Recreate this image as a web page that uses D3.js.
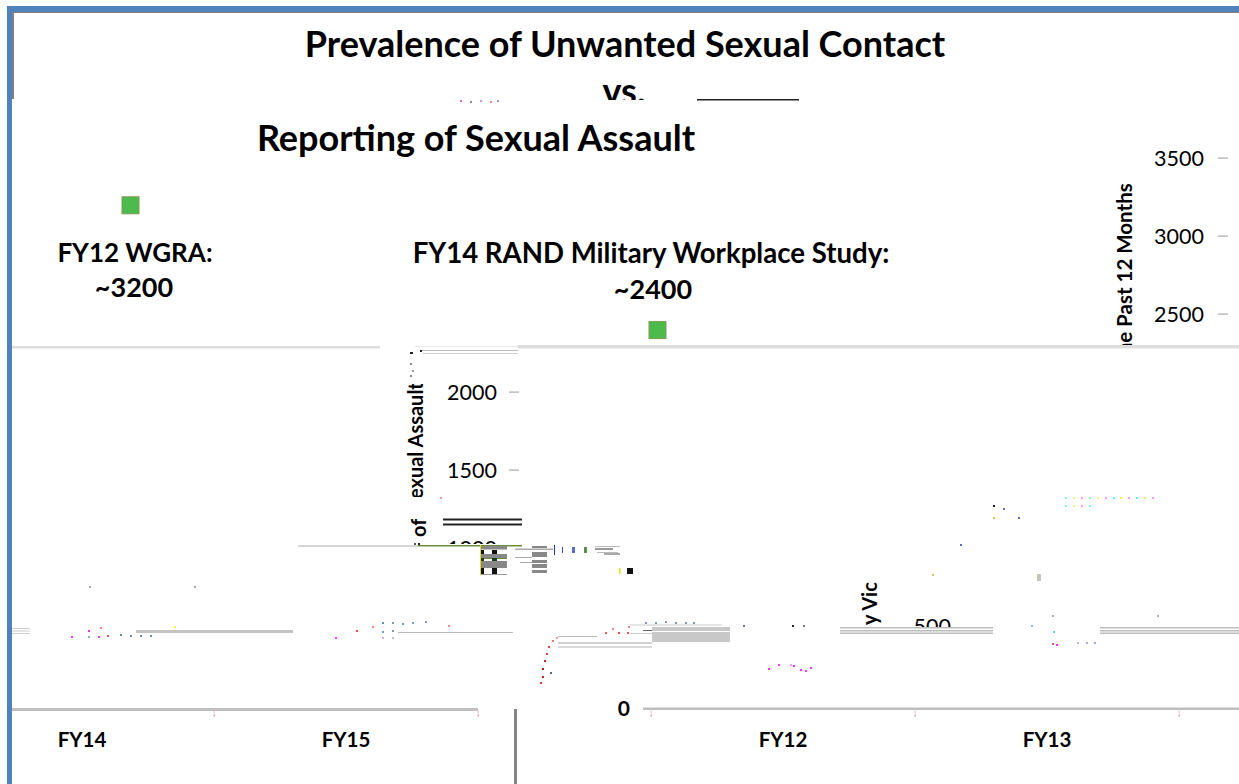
<!DOCTYPE html>
<html><head><meta charset="utf-8">
<script src="https://cdn.jsdelivr.net/npm/d3@7"></script>
<style>html,body{margin:0;padding:0;background:#fff}svg{display:block}text{font-family:Lato,Carlito,sans-serif;fill:#000}</style>
</head><body><svg width="1239" height="784"></svg>
<script>
const leftCategories = ["FY14","FY15"];
const rightCategories = ["FY12","FY13"];
const tickValues = [500,1000,1500,2000,2500,3000,3500];
const surveyYears = [12,14];
const surveyValues = [3200,2400];
const surveyNames = ["FY12 WGRA:","FY14 RAND Military Workplace Study:"];
const surveyTexts = ["~3200","~2400"];

const svg = d3.select("svg");
const y = d3.scaleLinear().domain([0,3500]).range([704,158]);
const xL = d3.scaleBand().domain(leftCategories).range([-50,478]);
const xR = d3.scaleBand().domain(rightCategories).range([651,1179]);
const xS = d3.scaleLinear().domain(surveyYears).range([130.5,657.5]);

function rect(x0,y0,x1,y1,c){svg.append("rect").attr("x",x0).attr("y",y0).attr("width",x1-x0).attr("height",y1-y0).attr("fill",c);}
function text(s,x,yy,size,weight,anchor){return svg.append("text").attr("x",x).attr("y",yy).attr("font-size",size).attr("font-weight",weight||400).attr("text-anchor",anchor||"middle").text(s);}
function vtext(s,x,yy,size){return svg.append("text").attr("transform",`translate(${x},${yy}) rotate(-90)`).attr("font-size",size).attr("font-weight",700).text(s);}

// titles
text("Prevalence of Unwanted Sexual Contact",625,57,36,700);
text("vs.",624,104,36,700);
text("Reporting of Sexual Assault",476,151,36,700);

// survey annotations
text(surveyNames[0],135,262,26,700);
text(surveyTexts[0],134,297,27,700);
text(surveyNames[1],651,263,27.6,700);
text(surveyTexts[1],653,299,27,700);
svg.selectAll("rect.survey").data(surveyValues).join("rect").attr("class","survey")
  .attr("x",(d,i)=>xS(surveyYears[i])-8.5).attr("y",d=>y(d)-8).attr("width",17).attr("height",17)
  .attr("fill","#4cbb4c").attr("stroke","#7f9a50").attr("stroke-width",1);

// axis pieces
const tickPos = {1000:[497,519],1500:[497,519],2000:[497,519],2500:[1204,1228],3000:[1204,1228],3500:[1204,1228],500:[951,null]};
tickValues.forEach(v=>{
  const p=tickPos[v];
  text(v,p[0],y(v)+8,21.5,400,"end");
  if(p[1]&&v!==1000) rect(p[1]-10,y(v)-0.5,p[1],y(v)+0.7,"#aaa");
});
text("0",630,716,21,700,"end");

// axis titles
vtext("Sexual Assault",423,510,20);
vtext("of",426,537,20);
vtext("the Past 12 Months",1132,362,20.5);
vtext("by Victims",877,636,20);

// masks
[[596,100,652,122],[1100,345,1160,400],[860,625,890,710],[860,540,890,582],[405,497,440,519],[405,540,445,560],[440,544,510,560],[905,627,960,645],[405,340,440,384]].forEach(m=>rect(m[0],m[1],m[2],m[3],"#fff"));

// x axes
[[xL,leftCategories],[xR,rightCategories]].forEach(([sc,cats])=>{
  cats.forEach(c=>text(c,sc(c)+sc.bandwidth()/2,747,20.5,700));
  cats.concat([null]).forEach((c,i)=>{
    const px=c?sc(c):sc.range()[1];
    if(px>0){rect(px-0.5,711,px+1,713,"#f3c9cf");rect(px-0.5,714,px+1,717,"#eeb6c0");}
  });
});
rect(12,708,478,711,"#bfbfbf");
rect(643,707.5,1239,710,"#bfbfbf");
rect(514,709,517,784,"#858585");

// frame
rect(7,6,1239,12,"#4f81bd");
rect(7,6,12,784,"#4f81bd");
rect(12,12,14,99,"#808080");
rect(12,12,1239,13,"#8a8075");
rect(697,99,799,100.5,"#222");

// horizontal glitch bands
[
[12,346,380,348.5,"#ddd"],[518,345,1239,348.5,"#ddd"],[415,346,518,347,"#e8e8e8"],
[421,350,518,351,"#bbb"],[423,353,518,354,"#ccc"],[410,352,413,354,"#222"],[420,350,422,352,"#222"],
[443,518.5,522,520.5,"#222"],[443,523.5,522,525.5,"#222"],
[298,545.5,418,546.5,"#aaa"],[418,545,522,546.5,"#6b8e3a"],
[481,546,507,549.5,"#888"],[481,550,484,554,"#111"],[492,550,497,554,"#111"],
[481,554,507,558,"#888"],[482,558,507,559,"#6b8e3a"],[481,558,484,561,"#1d3a10"],[492,558,497,561,"#1d3a10"],
[481,561,507,568,"#888"],[481,568,484,574,"#111"],[492,568,497,574,"#111"],[481,574,507,575,"#999"],
[480,545,481,575,"#e8e000"],
[532,546,547,548,"#888"],[532,552,547,557,"#888"],[532,560,547,563,"#888"],[532,564,547,568,"#888"],[532,570,547,573,"#888"],
[515,548.5,553,550,"#aaa"],[515,557,532,558,"#aaa"],[520,562,532,563,"#aaa"],
[554,545,555,555,"#2233cc"],[562,547,563,553,"#3a44cc"],[572,547,575,553,"#5a6ccc"],[584,547,587,553,"#5a8c4c"],
[595,546,620,547,"#bbb"],[595,548,613,550,"#999"],[597,552,618,553,"#bbb"],[604,553,620,555,"#aaa"],
[619,568,620.5,574,"#e8e000"],[627,568,633,574,"#111"],
[630,624.5,722,625.5,"#ccc"],[652,627,730,631,"#c8c8c8"],[652,632,730,642,"#c8c8c8"],[630,633,652,634,"#ccc"],[643,630,652,631,"#666"],
[558,636,597,637,"#bbb"],[558,642,652,644,"#d0d0d0"],[558,646,652,648,"#d8d8d8"],
[840,627,993,628.5,"#bbb"],[840,630,993,631.5,"#bbb"],[840,632.5,993,634,"#bbb"],
[1100,627,1239,628.5,"#bbb"],[1100,630,1239,631.5,"#bbb"],[1100,632.5,1239,634,"#bbb"],
[12,628,30,629,"#ccc"],[12,630.5,30,631.5,"#ccc"],[12,633,30,634,"#ccc"],
[136,630,293,633,"#c4c4c4"],[398,632,513,633,"#bbb"],[1037,574,1041,581,"#c4c4b8"]
].forEach(r=>rect(r[0],r[1],r[2],r[3],r[4]));

// speckle remnants
const speck = [
[460,100,"#e6a"],[470,101,"#88a"],[480,100,"#c9c"],[490,101,"#e88"],[497,100,"#99b"],
[410,363,"#888"],[412,370,"#999"],[410,375,"#888"],[418,543,"#222"],[414,543,"#555"],[440,497,"#f99"],
[89,586,"#aab"],[194,586,"#aab"],[71,636,"#f3f"],[88,630,"#f3f"],[100,627,"#f88"],[88,636,"#8ad"],[98,636,"#f3f"],[107,635,"#e55"],
[120,634,"#68b"],[130,635,"#68b"],[140,635,"#68b"],[150,635,"#68b"],[174,626,"#ee6"],[335,637,"#f3f"],[356,630,"#e55"],
[372,626,"#f88"],[382,622,"#68b"],[392,622,"#79c"],[402,623,"#79c"],[412,622,"#79c"],[425,621,"#79c"],[382,631,"#79c"],[392,630,"#79c"],[382,637,"#bbd"],[392,637,"#bbd"],[448,625,"#e88"],
[540,682,"#e33"],[542,676,"#c22"],[542,668,"#a22"],[544,660,"#c22"],[546,653,"#d44"],[548,646,"#e44"],[552,640,"#e77"],[556,637,"#e99"],[550,672,"#569"],
[605,632,"#e55"],[612,628,"#e88"],[618,632,"#e55"],[628,626,"#e88"],[627,632,"#e55"],
[645,622,"#79c"],[655,622,"#79c"],[665,621,"#79c"],[675,622,"#79c"],[685,622,"#79c"],[693,622,"#79c"],
[743,625,"#779"],[792,625,"#222"],[803,625,"#77a"],
[768,668,"#f3f"],[778,664,"#f3f"],[790,664,"#f9f"],[793,665,"#f3f"],[800,669,"#f3f"],[805,670,"#f3f"],[810,667,"#f3f"],
[932,574,"#cc6"],[960,544,"#66c"],[993,517,"#cc6"],[1018,517,"#66c"],[993,505,"#222"],[1003,508,"#66c"],
[1052,615,"#9ad"],[1157,615,"#aac"],[1053,631,"#6cf"],[1031,625,"#8bd"],[1052,643,"#e55"],[1056,644,"#f3f"],[1077,642,"#bbb"],[1086,642,"#aac"],[1094,642,"#9ad"],
[1065,497,"#8ee"],[1073,497,"#ee8"],[1081,497,"#f9f"],[1089,497,"#8ee"],[1097,497,"#ee8"],
[1105,497,"#f9f"],[1113,497,"#6ee"],[1120,497,"#ee6"],[1128,497,"#f9f"],[1136,497,"#6ee"],[1144,497,"#ee6"],[1152,497,"#f9f"],
[1065,505,"#8ee"],[1073,505,"#ee8"],[1081,505,"#f9f"],[1089,505,"#8ee"]
];
speck.forEach(s=>rect(s[0],s[1],s[0]+2,s[1]+2,s[2]));
</script></body></html>
